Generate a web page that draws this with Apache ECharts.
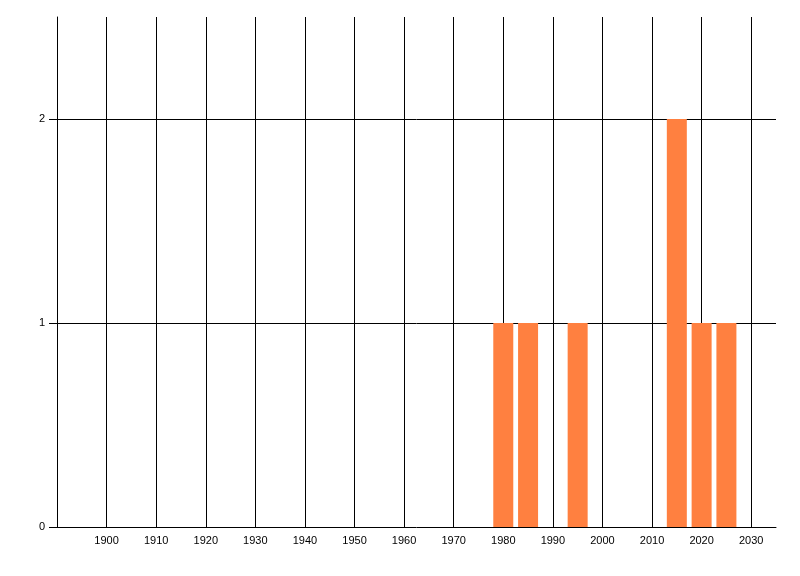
<!DOCTYPE html>
<html><head><meta charset="utf-8">
<script src="https://cdn.jsdelivr.net/npm/echarts@6/dist/echarts.min.js"></script>
<style>html,body{margin:0;padding:0;background:#fff}#c{width:800px;height:576px}</style>
</head><body><div id="c"></div>
<script>
var years = [1980, 1985, 1995, 2015, 2020, 2025];
var counts = [1, 1, 1, 2, 1, 1];
var xTicks = [1900, 1910, 1920, 1930, 1940, 1950, 1960, 1970, 1980, 1990, 2000, 2010, 2020, 2030];
var yTicks = [0, 1, 2];

var chart = echarts.init(document.getElementById('c'), null, {renderer: 'canvas'});
var font = {fontFamily: 'Liberation Sans', fontSize: 11, color: '#000', formatter: function (v) { return String(v); }};
chart.setOption({
  animation: false,
  grid: {left: 57, right: 24, top: 17, bottom: 49},
  xAxis: {
    type: 'value', min: 1890, max: 2035, interval: 10,
    axisLine: {show: true, onZero: false, lineStyle: {color: '#000', width: 1}},
    axisTick: {show: false},
    axisLabel: Object.assign({margin: 8, customValues: xTicks}, font),
    splitLine: {show: true, showMinLine: false, showMaxLine: false, lineStyle: {color: '#000', width: 1}}
  },
  yAxis: {
    type: 'value', min: 0, max: 2.5, interval: 1,
    axisLine: {show: true, lineStyle: {color: '#000', width: 1}},
    axisTick: {show: true, length: 8, customValues: yTicks, lineStyle: {color: '#000'}},
    axisLabel: Object.assign({margin: 12, customValues: yTicks}, font),
    splitLine: {show: true, showMinLine: false, showMaxLine: true, lineStyle: {color: '#000', width: 1}}
  },
  series: [{
    type: 'bar',
    barWidth: 20,
    itemStyle: {color: '#FF8040'},
    data: years.map(function (y, i) { return [y, counts[i]]; })
  }]
});
</script></body></html>
